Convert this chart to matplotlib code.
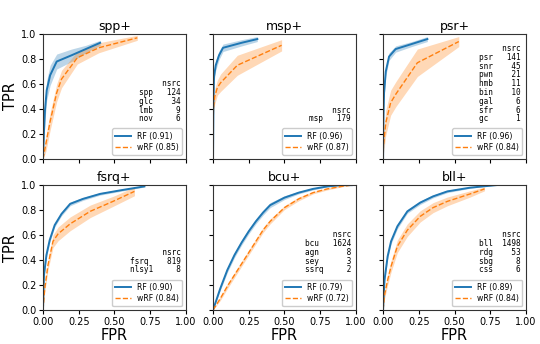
import matplotlib
matplotlib.use("Agg")
import matplotlib.pyplot as plt
import numpy as np

titles = ["spp+", "msp+", "psr+", "fsrq+", "bcu+", "bll+"]
rf_auc = [0.91, 0.96, 0.96, 0.90, 0.79, 0.89]
wrf_auc = [0.85, 0.87, 0.84, 0.84, 0.72, 0.84]

# source tables
src_names = [
    ["spp", "glc", "lmb", "nov"],
    ["msp"],
    ["psr", "snr", "pwn", "hmb", "bin", "gal", "sfr", "gc"],
    ["fsrq", "nlsy1"],
    ["bcu", "agn", "sey", "ssrq"],
    ["bll", "rdg", "sbg", "css"],
]
src_counts = [
    [124, 34, 9, 6],
    [179],
    [141, 45, 21, 11, 10, 6, 6, 1],
    [819, 8],
    [1624, 8, 3, 2],
    [1498, 53, 8, 6],
]

# RF curves: fpr, tpr, band half-width
rf_fpr = [
    [0.0, 0.007, 0.014, 0.026, 0.05, 0.096, 0.2, 0.3, 0.4],
    [0.0, 0.003, 0.007, 0.019, 0.042, 0.07, 0.2, 0.31],
    [0.0, 0.003, 0.007, 0.019, 0.042, 0.088, 0.2, 0.31],
    [0.0, 0.007, 0.024, 0.047, 0.082, 0.13, 0.19, 0.28, 0.4, 0.55, 0.71],
    [0.0, 0.05, 0.1, 0.15, 0.2, 0.25, 0.3, 0.35, 0.4, 0.5, 0.6, 0.7, 0.8, 0.9, 0.97],
    [0.0, 0.01, 0.032, 0.056, 0.1, 0.17, 0.26, 0.35, 0.45, 0.61, 0.79],
]
rf_tpr = [
    [0.0, 0.22, 0.39, 0.55, 0.67, 0.78, 0.83, 0.88, 0.93],
    [0.0, 0.45, 0.66, 0.75, 0.83, 0.89, 0.93, 0.96],
    [0.0, 0.35, 0.53, 0.70, 0.82, 0.88, 0.92, 0.96],
    [0.0, 0.28, 0.44, 0.56, 0.68, 0.77, 0.85, 0.89, 0.93, 0.96, 0.99],
    [0.0, 0.17, 0.32, 0.44, 0.54, 0.63, 0.71, 0.78, 0.84, 0.90, 0.94, 0.97, 0.99, 1.0, 1.0],
    [0.0, 0.24, 0.43, 0.55, 0.67, 0.79, 0.86, 0.91, 0.95, 0.98, 1.0],
]
rf_err = [
    [0.0, 0.07, 0.08, 0.08, 0.08, 0.06, 0.05, 0.03, 0.02],
    [0.0, 0.04, 0.04, 0.04, 0.035, 0.03, 0.025, 0.02],
    [0.0, 0.04, 0.04, 0.035, 0.03, 0.025, 0.02, 0.02],
    [0.0, 0.02, 0.02, 0.02, 0.015, 0.015, 0.015, 0.012, 0.01, 0.008, 0.005],
    [0.0, 0.015, 0.02, 0.02, 0.02, 0.02, 0.02, 0.02, 0.02, 0.015, 0.01, 0.008, 0.005, 0.002, 0.0],
    [0.0, 0.02, 0.02, 0.02, 0.02, 0.015, 0.015, 0.012, 0.01, 0.005, 0.0],
]

# wRF curves: fpr, tpr, band half-width
wrf_fpr = [
    [0.0, 0.02, 0.05, 0.096, 0.13, 0.24, 0.39, 0.66],
    [0.0, 0.002, 0.012, 0.03, 0.053, 0.17, 0.48],
    [0.0, 0.002, 0.019, 0.053, 0.09, 0.24, 0.53],
    [0.0, 0.012, 0.035, 0.07, 0.106, 0.19, 0.33, 0.49, 0.64],
    [0.0, 0.05, 0.1, 0.15, 0.2, 0.25, 0.3, 0.35, 0.4, 0.5, 0.6, 0.7, 0.8, 0.9, 0.97],
    [0.0, 0.01, 0.032, 0.056, 0.1, 0.17, 0.26, 0.35, 0.45, 0.61, 0.71],
]
wrf_tpr = [
    [0.0, 0.12, 0.30, 0.53, 0.64, 0.81, 0.89, 0.97],
    [0.0, 0.4, 0.5, 0.57, 0.61, 0.75, 0.91],
    [0.0, 0.1, 0.29, 0.45, 0.52, 0.77, 0.94],
    [0.0, 0.17, 0.36, 0.55, 0.61, 0.69, 0.79, 0.87, 0.95],
    [0.0, 0.09, 0.19, 0.28, 0.37, 0.46, 0.55, 0.64, 0.71, 0.82, 0.89, 0.94, 0.97, 0.99, 1.0],
    [0.0, 0.12, 0.24, 0.35, 0.51, 0.64, 0.75, 0.82, 0.87, 0.93, 0.97],
]
wrf_err = [
    [0.0, 0.06, 0.07, 0.07, 0.07, 0.05, 0.04, 0.02],
    [0.0, 0.06, 0.06, 0.06, 0.07, 0.08, 0.045],
    [0.0, 0.06, 0.1, 0.1, 0.1, 0.11, 0.04],
    [0.0, 0.03, 0.04, 0.05, 0.055, 0.055, 0.05, 0.04, 0.035],
    [0.0, 0.015, 0.02, 0.02, 0.02, 0.02, 0.02, 0.02, 0.02, 0.015, 0.015, 0.01, 0.008, 0.004, 0.0],
    [0.0, 0.03, 0.04, 0.045, 0.05, 0.05, 0.045, 0.04, 0.035, 0.025, 0.015],
]

xticks = [0.0, 0.25, 0.5, 0.75, 1.0]
yticks = [0.0, 0.2, 0.4, 0.6, 0.8, 1.0]

blue = "#1f77b4"
orange = "#ff7f0e"

fig, axes = plt.subplots(2, 3, figsize=(5.4, 3.44), dpi=100, sharex=True, sharey=True)
fig.subplots_adjust(left=0.0796, right=0.974, top=0.901, bottom=0.0988, wspace=0.19, hspace=0.21)

for i, ax in enumerate(axes.flat):
    fx = np.array(rf_fpr[i]); ty = np.array(rf_tpr[i]); e = np.array(rf_err[i])
    ax.fill_between(fx, np.clip(ty - e, 0, 1), np.clip(ty + e, 0, 1), color=blue, alpha=0.3, lw=0)
    ax.plot(fx, ty, color=blue, lw=1.4, label=f"RF ({rf_auc[i]:.2f})")
    fx = np.array(wrf_fpr[i]); ty = np.array(wrf_tpr[i]); e = np.array(wrf_err[i])
    ax.fill_between(fx, np.clip(ty - e, 0, 1), np.clip(ty + e, 0, 1), color=orange, alpha=0.3, lw=0)
    ax.plot(fx, ty, color=orange, lw=1.0, ls="--", label=f"wRF ({wrf_auc[i]:.2f})")
    ax.set_xlim(0, 1)
    ax.set_ylim(0, 1)
    ax.set_xticks(xticks)
    ax.set_yticks(yticks)
    ax.tick_params(labelsize=7, length=3.2, width=0.8, pad=1.5)
    ax.set_title(titles[i], fontsize=9, pad=3)
    ax.legend(loc="lower right", fontsize=5.6, handlelength=2.0, borderpad=0.4,
              labelspacing=0.3, framealpha=1.0)
    w = max(len(n) for n in src_names[i])
    lines = [" " * w + "  " + "nsrc"]
    for n, c in zip(src_names[i], src_counts[i]):
        lines.append(f"{n:<{w}}  {c:>4d}")
    ax.text(0.965, 0.285, "\n".join(lines), transform=ax.transAxes, ha="right", va="bottom",
            family="DejaVu Sans Mono", fontsize=5.6, linespacing=0.97, multialignment="left")
    for s in ax.spines.values():
        s.set_linewidth(0.8)
        s.set_color("#333333")
    if i % 3 == 0:
        ax.set_ylabel("TPR", fontsize=10.5, labelpad=2)
    if i >= 3:
        ax.set_xlabel("FPR", fontsize=10.5, labelpad=1)
    ax.xaxis.set_major_formatter(matplotlib.ticker.FormatStrFormatter("%.2f"))
    ax.yaxis.set_major_formatter(matplotlib.ticker.FormatStrFormatter("%.1f"))

fig.savefig("out.png", dpi=100)
